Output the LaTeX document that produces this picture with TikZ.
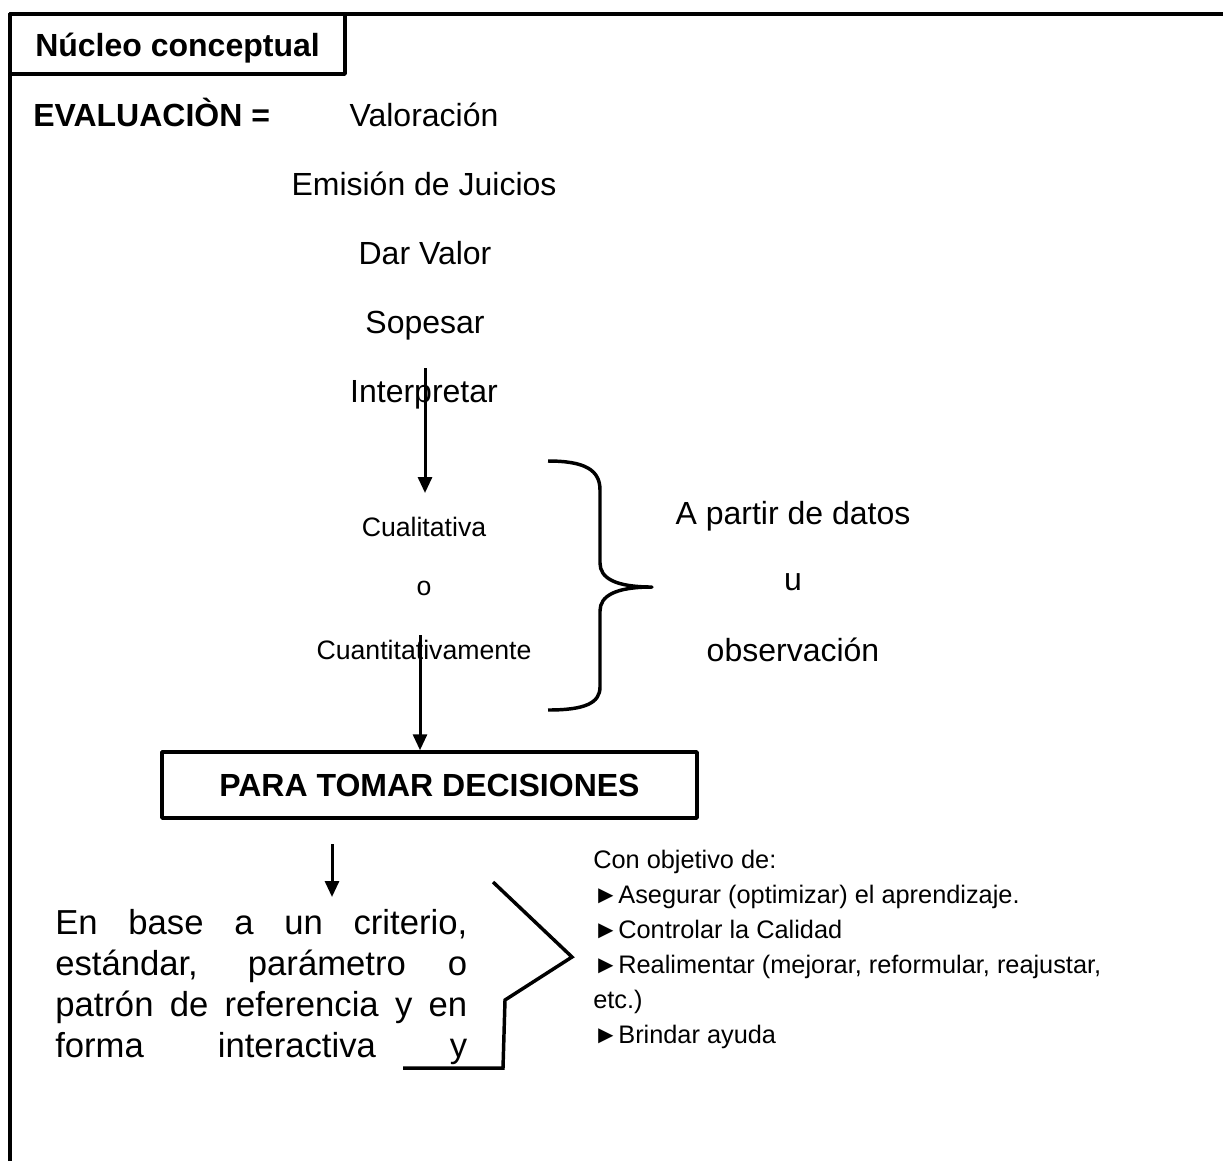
\documentclass[tikz,border=0pt]{standalone}
\usepackage{fontspec}
\setmainfont{Liberation Sans}
\usetikzlibrary{arrows.meta}

\tikzset{
	marco/.style = {line width = 2.6pt, line join = round},
	flecha/.style = {line width = 2.25pt, -{Triangle[length = 12pt, width = 10.5pt]}},
	grande/.style = {inner sep = 0pt, font = \fontsize{24}{27.75}\selectfont},
	bloque/.style = {inner sep = 0pt, font = \fontsize{26}{30.75}\selectfont},
	chico/.style = {inner sep = 0pt, font = \fontsize{20}{26.5}\selectfont},
	lista/.style = {inner sep = 0pt, font = \fontsize{19}{26.25}\selectfont},
	negrita/.style = {inner sep = 0pt, font = \fontsize{24}{27.75}\selectfont\bfseries}
}

\begin{document}
\begin{tikzpicture}[x = 0.75pt, y = -0.75pt]
	\useasboundingbox (0,0) rectangle (1223,1161);
	\draw[marco] (10,1161) -- (10,14) -- (1223,14);
	\draw[marco] (10,14) rectangle (345,74);

	\draw
	(35,56.5) node[negrita, anchor = base west](nucleo){Núcleo conceptual}
	(33,126.5) node[negrita, anchor = base west](evaluacion){EVALUACIÒN =}
	(424,126.5) node[grande, anchor = base](valoracion){Valoración}
	(424,195.5) node[grande, anchor = base](emision){Emisión de Juicios}
	(425,264.5) node[grande, anchor = base](darvalor){Dar Valor}
	(425,333.5) node[grande, anchor = base](sopesar){Sopesar}
	(424,402.5) node[grande, anchor = base](interpretar){Interpretar}
	(424,536.6) node[chico, anchor = base](cualitativa){Cualitativa}
	(424,595) node[chico, anchor = base](o){o}
	(424,659.6) node[chico, anchor = base](cuantitativa){Cuantitativamente}
	(793,524.5) node[grande, anchor = base](datos){A partir de datos}
	(793,590.3) node[grande, anchor = base](u){u}
	(793,661.5) node[grande, anchor = base](observacion){observación};

	% caja de decisiones
	\node[draw, marco, minimum width = 401.25pt, minimum height = 49.5pt, negrita] (decision) at (429.5,785) {PARA TOMAR DECISIONES};

	% flechas
	\coordinate (p1) at (425,368);
	\coordinate (p2) at (425,493);
	\coordinate (q1) at (420,635);
	\coordinate (r1) at (332,844);
	\coordinate (r2) at (332,897);
	\draw[flecha] (p1) -- (p2);
	\draw[flecha] (q1) -- (q1 |- decision.north);
	\draw[flecha] (r1) -- (r2);

	% llave
	\draw[marco] (548,461) .. controls (585,461) and (600,470) .. (600,490) -- (600,563)
		.. controls (600,578) and (615,587) .. (652,587)
		.. controls (615,587) and (600,596) .. (600,611) -- (600,687)
		.. controls (600,703) and (585,710) .. (548,710);

	% corchete
	\draw[marco, line join = miter] (493,882) -- (572,957) -- (505,1000) -- (503,1068) -- (403,1068);

	\node[bloque, anchor = north west, align = left] (criterio) at (55,909) {%
		\makebox[309pt][s]{En base a un criterio,}\\
		\makebox[309pt][s]{estándar, parámetro o}\\
		\makebox[309pt][s]{patrón de referencia y en}\\
		\makebox[309pt][s]{forma interactiva y}};

	\node[lista, anchor = north west, align = left] (objetivo) at (593,850) {%
		Con objetivo de:\\
		►Asegurar (optimizar) el aprendizaje.\\
		►Controlar la Calidad\\
		►Realimentar (mejorar, reformular, reajustar,\\
		etc.)\\
		►Brindar ayuda};
\end{tikzpicture}
\end{document}
